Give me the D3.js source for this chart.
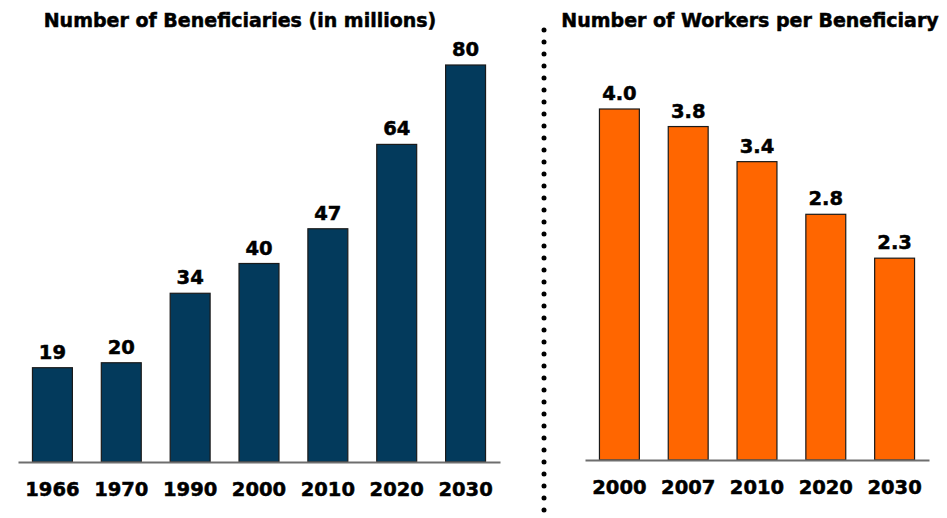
<!DOCTYPE html>
<html>
<head>
<meta charset="utf-8">
<script src="https://cdn.jsdelivr.net/npm/d3@7/dist/d3.min.js"></script>
<style>
  html, body { margin: 0; padding: 0; background: #fff; }
  svg { display: block; }
  text { font-family: "DejaVu Sans", Verdana, sans-serif; font-weight: bold; fill: #000; stroke: #000; stroke-width: 0.5px; }
</style>
</head>
<body>
<script>
// Beneficiaries (millions) by year
const benYears = ["1966", "1970", "1990", "2000", "2010", "2020", "2030"];
const benValues = [19, 20, 34, 40, 47, 64, 80];

// Workers per beneficiary by year
const wrkYears = ["2000", "2007", "2010", "2020", "2030"];
const wrkValues = [4.0, 3.8, 3.4, 2.8, 2.3];

const W = 947, H = 518;
const svg = d3.select("body").append("svg").attr("width", W).attr("height", H);

function panel(opts) {
  const g = svg.append("g");
  const x = d3.scaleBand().domain(opts.cats).range(opts.xRange).paddingInner(0.42).paddingOuter(0.21);
  const y = d3.scaleLinear().domain(opts.domain).range([opts.base, opts.top]);

  g.append("text")
    .attr("x", opts.titleX).attr("y", 27)
    .attr("text-anchor", "middle")
    .style("font-size", opts.titleSize + "px")
    .text(opts.title);

  g.selectAll("rect.bar").data(opts.values).join("rect")
    .attr("class", "bar")
    .attr("x", (d, i) => x(opts.cats[i]))
    .attr("width", x.bandwidth())
    .attr("y", d => y(d))
    .attr("height", d => y(0) - y(d))
    .attr("fill", opts.color)
    .attr("stroke", "#1a1a1a")
    .attr("stroke-width", 1.2);

  g.selectAll("text.val").data(opts.values).join("text")
    .attr("class", "val")
    .attr("x", (d, i) => x(opts.cats[i]) + x.bandwidth() / 2)
    .attr("y", d => y(d) - 9)
    .attr("text-anchor", "middle")
    .style("font-size", "19.5px")
    .text(d => opts.fmt(d));

  const axis = g.append("g")
    .attr("transform", `translate(0,${opts.base})`)
    .call(d3.axisBottom(x).tickSize(0).tickPadding(20));
  axis.select(".domain").attr("stroke", "#6e6e6e").attr("stroke-width", 2);
  axis.selectAll("text")
    .style("font-size", "19.5px")
    .style("font-family", "DejaVu Sans, Verdana, sans-serif")
    .style("font-weight", "bold")
    .attr("fill", "#000");
}

panel({
  cats: benYears, values: benValues, domain: [0, 80],
  xRange: [18, 500], base: 462, top: 65,
  color: "#033a5c", fmt: d => d3.format("d")(d),
  title: "Number of Beneficiaries (in millions)", titleX: 240, titleSize: 19
});

panel({
  cats: wrkYears, values: wrkValues, domain: [0, 4],
  xRange: [585, 929], base: 460, top: 109,
  color: "#ff6600", fmt: d => d3.format(".1f")(d),
  title: "Number of Workers per Beneficiary", titleX: 750, titleSize: 19
});

// dotted divider between panels
const dots = d3.range(30, H + 6, 12);
svg.append("g").selectAll("circle").data(dots).join("circle")
  .attr("cx", 544).attr("cy", d => d).attr("r", 2.5).attr("fill", "#000");
</script>
</body>
</html>
